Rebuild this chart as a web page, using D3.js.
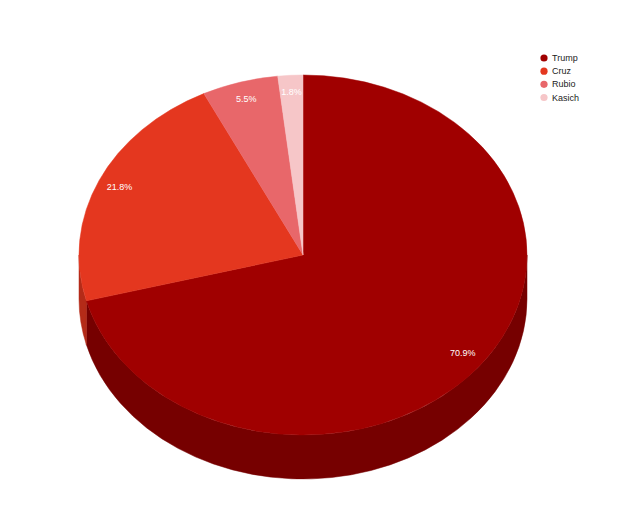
<!DOCTYPE html>
<html>
<head>
<meta charset="utf-8">
<script src="https://cdn.jsdelivr.net/npm/d3@7"></script>
<style>
  body { margin: 0; background: #fff; }
  text { font-family: Arial, "Liberation Sans", sans-serif; }
</style>
</head>
<body>
<svg id="chart"></svg>
<script>
const candidates = ["Trump", "Cruz", "Rubio", "Kasich"];
const shares = [70.9, 21.8, 5.5, 1.8];
const topColors = ["#a00000", "#e4371f", "#e8676a", "#f6c6c8"];
const sideColors = ["#760000", "#b42b18", "#b44e51", "#c09a9c"];

const width = 640;
const height = 520;
const cx = 303, cy = 255;
const rx = 224, ry = 180;
const depth = 44;

const svg = d3.select("#chart")
    .attr("width", width)
    .attr("height", height);

const pie = d3.pie().sort(null).value(d => d.value);
const slices = pie(candidates.map((c, i) => ({ name: c, value: shares[i], i: i })));

// point on ellipse for angle measured clockwise from 12 o'clock
function pt(a, dy) {
    return [cx + rx * Math.sin(a), cy - ry * Math.cos(a) + (dy || 0)];
}

// outer wall, only the front half (between 90deg and 270deg) can be seen
const wallLo = Math.PI / 2, wallHi = Math.PI * 1.5;
const walls = svg.append("g");
slices.forEach(s => {
    const a1 = Math.max(s.startAngle, wallLo);
    const a2 = Math.min(s.endAngle, wallHi);
    if (a2 <= a1) return;
    const p1 = pt(a1), p2 = pt(a2);
    const b1 = pt(a1, depth), b2 = pt(a2, depth);
    const d = `M${p1}A${rx},${ry} 0 0 1 ${p2}L${b2}A${rx},${ry} 0 0 0 ${b1}Z`;
    walls.append("path")
        .attr("d", d)
        .attr("fill", sideColors[s.data.i])
        .attr("stroke", sideColors[s.data.i])
        .attr("stroke-width", 0.5);
});

// top faces
const tops = svg.append("g");
slices.forEach(s => {
    const p1 = pt(s.startAngle), p2 = pt(s.endAngle);
    const large = (s.endAngle - s.startAngle) > Math.PI ? 1 : 0;
    tops.append("path")
        .attr("d", `M${cx},${cy}L${p1}A${rx},${ry} 0 ${large} 1 ${p2}Z`)
        .attr("fill", topColors[s.data.i])
        .attr("stroke", topColors[s.data.i])
        .attr("stroke-width", 0.5);
});

// percentage labels
const fmt = d3.format(".1f");
svg.append("g").selectAll("text")
    .data(slices)
    .enter().append("text")
    .attr("x", d => cx + 0.9 * rx * Math.sin((d.startAngle + d.endAngle) / 2))
    .attr("y", d => cy - 0.9 * ry * Math.cos((d.startAngle + d.endAngle) / 2) - 1)
    .attr("text-anchor", "middle")
    .attr("dominant-baseline", "central")
    .attr("font-size", 9)
    .attr("fill", "#ffffff")
    .text(d => fmt(d.data.value) + "%");

// legend
const legY = d3.scalePoint()
    .domain(candidates)
    .range([58, 97.5]);

const legend = svg.append("g");
legend.selectAll("circle")
    .data(candidates)
    .enter().append("circle")
    .attr("cx", 544)
    .attr("cy", d => legY(d))
    .attr("r", 3.6)
    .attr("fill", (d, i) => topColors[i]);

legend.selectAll("text")
    .data(candidates)
    .enter().append("text")
    .attr("x", 552)
    .attr("y", d => legY(d))
    .attr("dominant-baseline", "central")
    .attr("font-size", 9)
    .attr("fill", "#222")
    .text(d => d);
</script>
</body>
</html>
